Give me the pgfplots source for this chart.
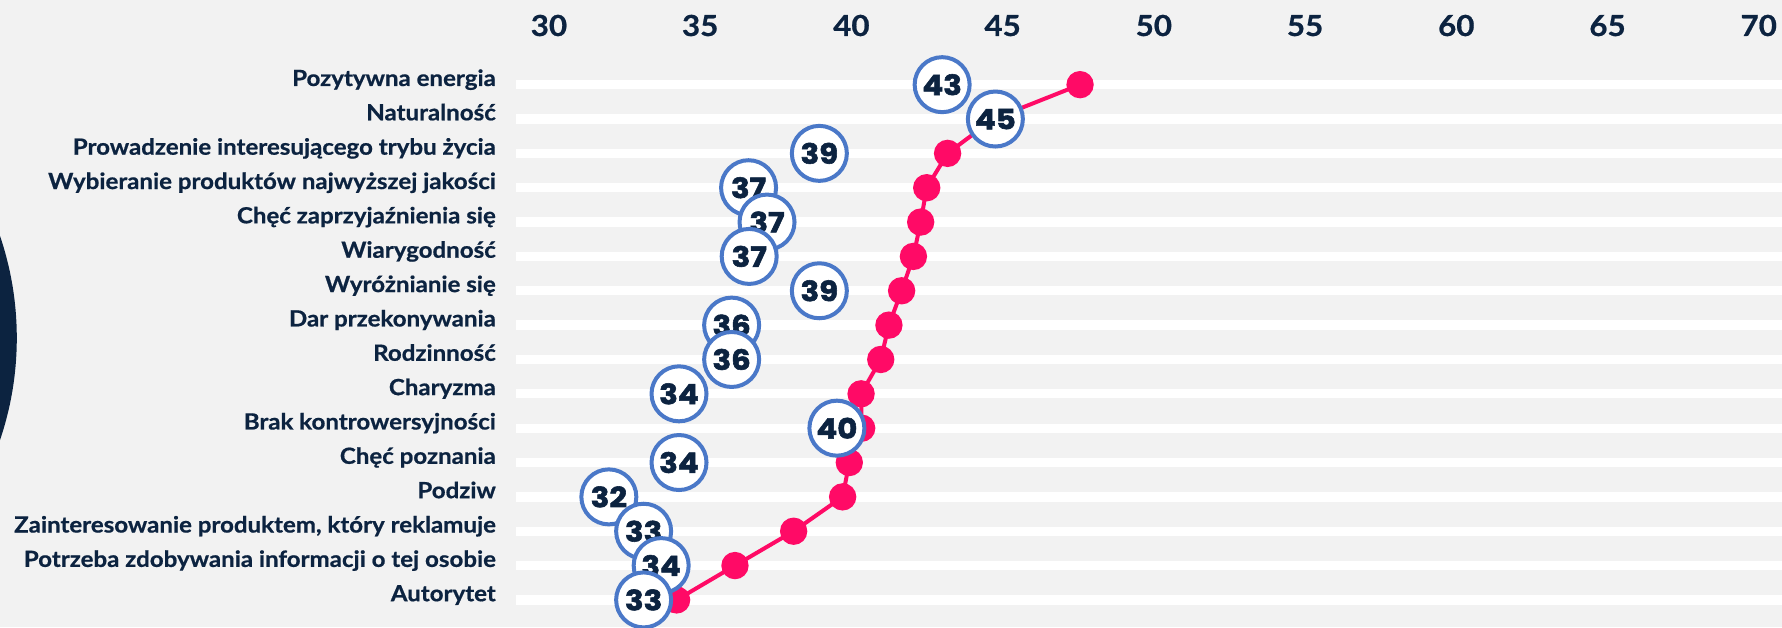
\documentclass[border=0pt]{standalone}
\usepackage{fontspec}
\setmainfont{Lato}[FakeStretch=1.08, BoldFeatures={FakeBold=0.7}]
\newfontfamily\numfont{Poppins}[FakeStretch=1.1, BoldFeatures={FakeBold=2}]
\usepackage{pgfplots}
\pgfplotsset{compat=1.18}

\definecolor{bg}{HTML}{F2F2F2}
\definecolor{navy}{HTML}{0C2340}
\definecolor{pinkc}{HTML}{FF0A66}
\definecolor{cblue}{HTML}{4A78C8}

% row 1 (top) has y=16
\pgfplotstableread{
x y
47.56 16
44.70 15
43.18 14
42.49 13
42.29 12
42.05 11
41.66 10
41.24 9
40.97 8
40.32 7
40.34 6
39.93 5
39.71 4
38.09 3
36.15 2
34.22 1
}\pinkdata

\pgfplotstableread{
x y lab
43.00 16 43
44.76 15 45
38.94 14 39
36.60 13 37
37.21 12 37
36.62 11 37
38.94 10 39
36.04 9 36
36.04 8 36
34.30 7 34
39.52 6 40
34.30 5 34
31.98 4 32
33.13 3 33
33.71 2 34
33.13 1 33
}\circdata

\begin{document}
\begin{tikzpicture}[x=1pt,y=1pt]
\fill[bg] (0,0) rectangle (1782,627);
\begin{scope}
  \clip (0,0) rectangle (1782,627);
  \fill[navy] (-300,289) circle (316.8);
\end{scope}
\begin{axis}[
  scale only axis,
  width=1266pt, height=549.6pt,
  at={(516pt,9.9pt)}, anchor=south west,
  xmin=28.91, xmax=70.77,
  ymin=0.5, ymax=16.5,
  clip=false,
  axis line style={draw=none},
  major tick length=0pt,
  /pgf/number format/assume math mode=true,
  xtick={30,35,...,70},
  xticklabel pos=upper,
  xticklabel style={font=\bfseries\fontsize{29}{29}\selectfont, text=navy, anchor=base, yshift=31.5pt},
  ytick={1,...,16},
  yticklabels={Autorytet, Potrzeba zdobywania informacji o tej osobie, {Zainteresowanie produktem, który reklamuje}, Podziw, Chęć poznania, Brak kontrowersyjności, Charyzma, Rodzinność, Dar przekonywania, Wyróżnianie się, Wiarygodność, Chęć zaprzyjaźnienia się, Wybieranie produktów najwyższej jakości, Prowadzenie interesującego trybu życia, Naturalność, Pozytywna energia},
  yticklabel style={font=\bfseries\fontsize{22.3}{22.3}\selectfont, text=navy, anchor=base east, inner sep=0pt, xshift=-20pt, yshift=-1.3pt},
  ymajorgrids,
  major grid style={white, line width=9.3pt},
]
\addplot[pinkc, line width=4pt, mark=*, mark size=11.65pt, mark options={solid, fill=pinkc, draw=none}] table[x=x, y=y] {\pinkdata};
\addplot[draw=none, mark=none, point meta=explicit symbolic,
  nodes near coords,
  every node near coord/.append style={circle, draw=cblue, fill=white, line width=4pt, minimum size=55pt, inner sep=0pt, anchor=center, text=navy, font=\numfont\bfseries\fontsize{28}{28}\selectfont}
] table[x=x, y=y, meta=lab] {\circdata};
\end{axis}
\pgfresetboundingbox
\path[use as bounding box] (0,0) rectangle (1782,627);
\end{tikzpicture}
\end{document}
